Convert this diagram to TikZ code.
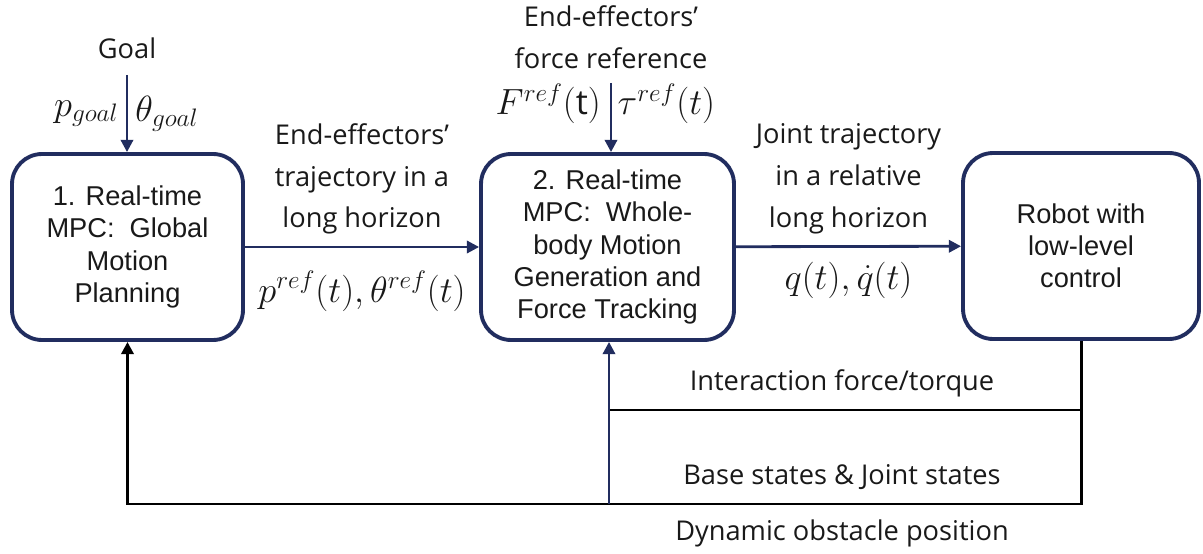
\documentclass[tikz,border=0pt]{standalone}
\usepackage{fontspec}
\setmainfont{Open Sans}
\newfontfamily\blockfont{Liberation Sans}
\usetikzlibrary{arrows.meta}
\definecolor{navy}{RGB}{33,45,95}

\begin{document}
\begin{tikzpicture}[
	x=0.02cm, y=-0.02cm,
	block/.style={ draw=navy, line width=2.2pt, rounded corners=0.6cm, align=center, minimum height=3.72cm, text=black!90, font=\blockfont\fontsize{15.5}{18.3}\selectfont },
	lbl/.style={ align=center, text=black!90, font=\fontsize{15.5}{23.8}\selectfont },
	eq/.style={ text=black!90, inner sep=2pt, font=\fontsize{19.5}{22}\selectfont },
	flow/.style={ navy, line width=1.6pt, -{Triangle[length=7pt,width=7pt]} },
	fb/.style={ black, line width=1.7pt }
]
\useasboundingbox (0,0) rectangle (1203,554);

\node at (127.5,247) (mpc1) [block, minimum width=4.62cm] {1. Real-time\\MPC:~~Global\\Motion\\Planning};
\node at (607.5,247) (mpc2) [block, minimum width=5.06cm] {2. Real-time\\MPC:~~Whole-\\body Motion\\Generation and\\Force Tracking};
\node at (1081,246) (robot) [block, minimum width=4.72cm] {Robot with\\low-level\\control};

\node at (127,48) (goal) [lbl] {Goal};
\coordinate (goalin) at (127,75);
\draw[flow] (goalin) to node[eq,left=2pt] {$p_{goal}$} node[eq,right=2pt] {$\theta_{goal}$} (goalin |- mpc1.north);

\node at (611,37) (fref) [lbl] {End-effectors'\\force reference};
\coordinate (frefin) at (611,83);
\draw[flow] (frefin) to node[eq,pos=0.3,left=3pt] {$F^{ref}(\mathrm{t})$} node[eq,pos=0.3,right=1pt] {$\tau^{ref}(t)$} (frefin |- mpc2.north);

\draw[flow] (mpc1) to node[lbl,above=3pt] {End-effectors'\\trajectory in a\\long horizon} node[eq,below=11pt] {$p^{ref}(t), \theta^{ref}(t)$} (mpc2);
\draw[flow] (mpc2) to node[lbl,above=3pt] {Joint trajectory\\in a relative\\long horizon} node[eq,below=6pt] {$q(t), \dot{q}(t)$} (robot);

\coordinate (fbint) at (609,410);
\coordinate (fbbase) at (609,504);
\draw[fb, -{Triangle[length=7pt,width=7pt]}] (robot.south) -- (robot.south |- fbbase) -| (mpc1.south);
\draw[fb] (fbint) -- (fbint -| robot.south);
\draw[flow] (fbbase) -- (fbbase |- mpc2.south);

\node at (842,383) (inter) [lbl] {Interaction force/torque};
\node at (842,477) (states) [lbl] {Base states \& Joint states};
\node at (842,533) (obst) [lbl] {Dynamic obstacle position};

\end{tikzpicture}
\end{document}
